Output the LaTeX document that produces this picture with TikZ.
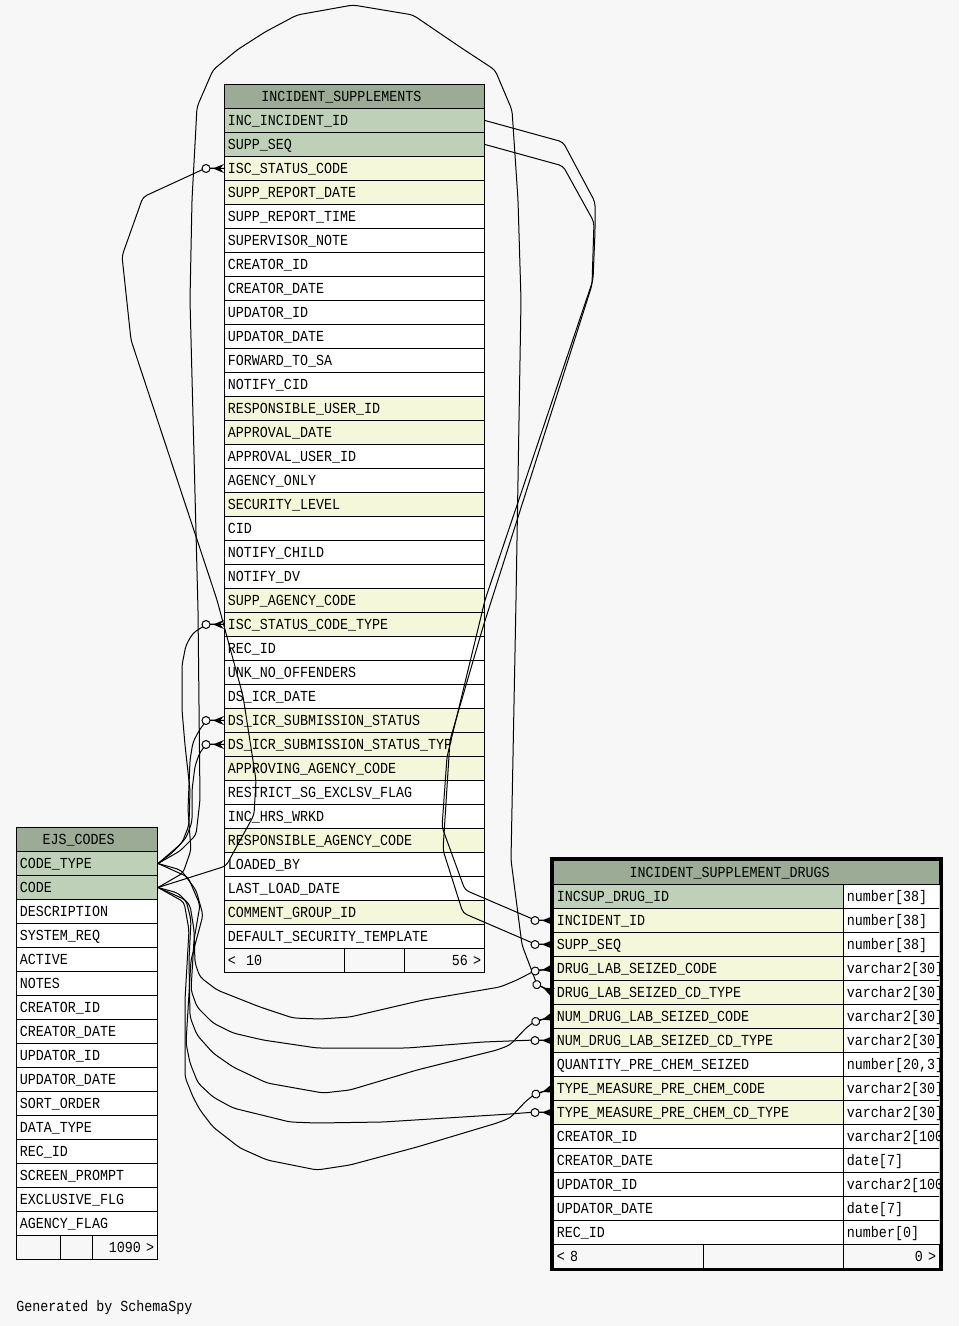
\documentclass[tikz,border=0pt]{standalone}
\usepackage{xcolor}
\usepackage{fontspec}
\newfontfamily\cellfont[FakeStretch=0.87]{Liberation Mono}
\definecolor{pagebg}{HTML}{F7F7F7}
\definecolor{headgreen}{HTML}{9BAB96}
\definecolor{keygreen}{HTML}{BED1B8}
\definecolor{fkyellow}{HTML}{F4F7DA}

\begin{document}
\begin{tikzpicture}[x=0.75pt, y=-0.75pt]
        \tikzset{column/.style = {draw, line width=0.75pt, rectangle, anchor=north west, minimum height=18pt,
                inner xsep=2.6pt, inner ysep=0pt, text height=7.6pt, text depth=0pt, align=left,
                font=\cellfont\fontsize{11.5}{12}\selectfont, fill=white, text width=#1}}
        \tikzset{head/.style = {fill=headgreen}}
        \tikzset{pk/.style = {fill=keygreen}}
        \tikzset{fk/.style = {fill=fkyellow}}
        \tikzset{foot/.style = {column=#1, fill=none}}
        \tikzset{link/.style = {line width=0.75pt, rounded corners=3pt}}
        \tikzset{crow/.pic = {
                \draw[line width=0.75pt] (-14,0) -- (0,0);
                \fill (0,-4.5) -- (-11,0) -- (0,4.5) -- (-4,0) -- cycle;
                \draw[line width=0.75pt, fill=pagebg] (-18,0) circle[radius=4];}}
        \path[use as bounding box, fill=pagebg] (0,0) rectangle (959,1326);
        % INCIDENT_SUPPLEMENTS
        \node[column=189.8pt, head] (is) at (224,84) {\hspace*{25pt}INCIDENT\_SUPPLEMENTS};
        \node[column=189.8pt, pk] (is-incid) at (224,108) {INC\_INCIDENT\_ID};
        \node[column=189.8pt, pk] (is-seq) at (224,132) {SUPP\_SEQ};
        \node[column=189.8pt, fk] (is-isc) at (224,156) {ISC\_STATUS\_CODE};
        \node[column=189.8pt, fk] (is-srd) at (224,180) {SUPP\_REPORT\_DATE};
        \node[column=189.8pt] (is-srt) at (224,204) {SUPP\_REPORT\_TIME};
        \node[column=189.8pt] (is-sup) at (224,228) {SUPERVISOR\_NOTE};
        \node[column=189.8pt] (is-cid) at (224,252) {CREATOR\_ID};
        \node[column=189.8pt] (is-cdate) at (224,276) {CREATOR\_DATE};
        \node[column=189.8pt] (is-uid) at (224,300) {UPDATOR\_ID};
        \node[column=189.8pt] (is-udate) at (224,324) {UPDATOR\_DATE};
        \node[column=189.8pt] (is-fwd) at (224,348) {FORWARD\_TO\_SA};
        \node[column=189.8pt] (is-ncid) at (224,372) {NOTIFY\_CID};
        \node[column=189.8pt, fk] (is-ruid) at (224,396) {RESPONSIBLE\_USER\_ID};
        \node[column=189.8pt, fk] (is-adate) at (224,420) {APPROVAL\_DATE};
        \node[column=189.8pt] (is-auid) at (224,444) {APPROVAL\_USER\_ID};
        \node[column=189.8pt] (is-aonly) at (224,468) {AGENCY\_ONLY};
        \node[column=189.8pt, fk] (is-sec) at (224,492) {SECURITY\_LEVEL};
        \node[column=189.8pt] (is-c) at (224,516) {CID};
        \node[column=189.8pt] (is-nchild) at (224,540) {NOTIFY\_CHILD};
        \node[column=189.8pt] (is-ndv) at (224,564) {NOTIFY\_DV};
        \node[column=189.8pt, fk] (is-sac) at (224,588) {SUPP\_AGENCY\_CODE};
        \node[column=189.8pt, fk] (is-isct) at (224,612) {ISC\_STATUS\_CODE\_TYPE};
        \node[column=189.8pt] (is-rec) at (224,636) {REC\_ID};
        \node[column=189.8pt] (is-unk) at (224,660) {UNK\_NO\_OFFENDERS};
        \node[column=189.8pt] (is-dsdate) at (224,684) {DS\_ICR\_DATE};
        \node[column=189.8pt, fk] (is-dss) at (224,708) {DS\_ICR\_SUBMISSION\_STATUS};
        \node[column=189.8pt, fk] (is-dsst) at (224,732) {DS\_ICR\_SUBMISSION\_STATUS\_TYP};
        \node[column=189.8pt, fk] (is-aac) at (224,756) {APPROVING\_AGENCY\_CODE};
        \node[column=189.8pt] (is-rsg) at (224,780) {RESTRICT\_SG\_EXCLSV\_FLAG};
        \node[column=189.8pt] (is-hrs) at (224,804) {INC\_HRS\_WRKD};
        \node[column=189.8pt, fk] (is-rac) at (224,828) {RESPONSIBLE\_AGENCY\_CODE};
        \node[column=189.8pt] (is-lby) at (224,852) {LOADED\_BY};
        \node[column=189.8pt] (is-ldate) at (224,876) {LAST\_LOAD\_DATE};
        \node[column=189.8pt, fk] (is-cgid) at (224,900) {COMMENT\_GROUP\_ID};
        \node[column=189.8pt] (is-dst) at (224,924) {DEFAULT\_SECURITY\_TEMPLATE};
        \node[foot=84.8pt] (is-foot1) at (224,948) {<~~10};
        \node[foot=39.8pt] (is-foot2) at (344,948) {};
        \node[foot=54.8pt, align=right] (is-foot3) at (404,948) {56 >};
        % EJS_CODES
        \node[column=100.55pt, head] (ejs) at (16,827) {\hspace*{16.9pt}EJS\_CODES};
        \node[column=100.55pt, pk] (ejs-ctype) at (16,851) {CODE\_TYPE};
        \node[column=100.55pt, pk] (ejs-code) at (16,875) {CODE};
        \node[column=100.55pt] (ejs-desc) at (16,899) {DESCRIPTION};
        \node[column=100.55pt] (ejs-sreq) at (16,923) {SYSTEM\_REQ};
        \node[column=100.55pt] (ejs-active) at (16,947) {ACTIVE};
        \node[column=100.55pt] (ejs-notes) at (16,971) {NOTES};
        \node[column=100.55pt] (ejs-cid) at (16,995) {CREATOR\_ID};
        \node[column=100.55pt] (ejs-cdate) at (16,1019) {CREATOR\_DATE};
        \node[column=100.55pt] (ejs-uid) at (16,1043) {UPDATOR\_ID};
        \node[column=100.55pt] (ejs-udate) at (16,1067) {UPDATOR\_DATE};
        \node[column=100.55pt] (ejs-sort) at (16,1091) {SORT\_ORDER};
        \node[column=100.55pt] (ejs-dtype) at (16,1115) {DATA\_TYPE};
        \node[column=100.55pt] (ejs-rec) at (16,1139) {REC\_ID};
        \node[column=100.55pt] (ejs-prompt) at (16,1163) {SCREEN\_PROMPT};
        \node[column=100.55pt] (ejs-excl) at (16,1187) {EXCLUSIVE\_FLG};
        \node[column=100.55pt] (ejs-aflag) at (16,1211) {AGENCY\_FLAG};
        \node[foot=27.8pt] (ejs-foot1) at (16,1235) {};
        \node[foot=18.8pt] (ejs-foot2) at (60,1235) {};
        \node[foot=43.55pt, align=right] (ejs-foot3) at (92,1235) {1090 >};
        % INCIDENT_SUPPLEMENT_DRUGS
        \node[column=284.6pt, head] (isd) at (553,860) {\hspace*{54.4pt}INCIDENT\_SUPPLEMENT\_DRUGS};
        \node[column=212.3pt, pk] (isd-drug) at (553,884) {INCSUP\_DRUG\_ID};
        \node[column=212.3pt, fk] (isd-incid) at (553,908) {INCIDENT\_ID};
        \node[column=212.3pt, fk] (isd-seq) at (553,932) {SUPP\_SEQ};
        \node[column=212.3pt, fk] (isd-dlsc) at (553,956) {DRUG\_LAB\_SEIZED\_CODE};
        \node[column=212.3pt, fk] (isd-dlsct) at (553,980) {DRUG\_LAB\_SEIZED\_CD\_TYPE};
        \node[column=212.3pt, fk] (isd-ndlsc) at (553,1004) {NUM\_DRUG\_LAB\_SEIZED\_CODE};
        \node[column=212.3pt, fk] (isd-ndlsct) at (553,1028) {NUM\_DRUG\_LAB\_SEIZED\_CD\_TYPE};
        \node[column=212.3pt] (isd-qty) at (553,1052) {QUANTITY\_PRE\_CHEM\_SEIZED};
        \node[column=212.3pt, fk] (isd-tmc) at (553,1076) {TYPE\_MEASURE\_PRE\_CHEM\_CODE};
        \node[column=212.3pt, fk] (isd-tmct) at (553,1100) {TYPE\_MEASURE\_PRE\_CHEM\_CD\_TYPE};
        \node[column=212.3pt] (isd-cid) at (553,1124) {CREATOR\_ID};
        \node[column=212.3pt] (isd-cdate) at (553,1148) {CREATOR\_DATE};
        \node[column=212.3pt] (isd-uid) at (553,1172) {UPDATOR\_ID};
        \node[column=212.3pt] (isd-udate) at (553,1196) {UPDATOR\_DATE};
        \node[column=212.3pt] (isd-rec) at (553,1220) {REC\_ID};
        \begin{scope}
        \clip (843,884) rectangle (939,1244);
        \node[column=66.8pt] (isd-t1) at (843,884) {number[38]};
        \node[column=66.8pt] (isd-t2) at (843,908) {number[38]};
        \node[column=66.8pt] (isd-t3) at (843,932) {number[38]};
        \node[column=66.8pt] (isd-t4) at (843,956) {varchar2[30]};
        \node[column=66.8pt] (isd-t5) at (843,980) {varchar2[30]};
        \node[column=66.8pt] (isd-t6) at (843,1004) {varchar2[30]};
        \node[column=66.8pt] (isd-t7) at (843,1028) {varchar2[30]};
        \node[column=66.8pt] (isd-t8) at (843,1052) {number[20,3]};
        \node[column=66.8pt] (isd-t9) at (843,1076) {varchar2[30]};
        \node[column=66.8pt] (isd-t10) at (843,1100) {varchar2[30]};
        \node[column=66.8pt] (isd-t11) at (843,1124) {varchar2[100]};
        \node[column=66.8pt] (isd-t12) at (843,1148) {date[7]};
        \node[column=66.8pt] (isd-t13) at (843,1172) {varchar2[100]};
        \node[column=66.8pt] (isd-t14) at (843,1196) {date[7]};
        \node[column=66.8pt] (isd-t15) at (843,1220) {number[0]};
        \end{scope}
        \node[foot=107.3pt] (isd-foot1) at (553,1244) {<~8};
        \node[foot=99.8pt] (isd-foot2) at (703,1244) {};
        \node[foot=66.8pt, align=right] (isd-foot3) at (843,1244) {0 >};
        \draw[line width=2.25pt] (551,858) rectangle (941,1269);
        % footer
        \node[anchor=base west, inner sep=0pt, font=\cellfont\fontsize{11.5}{12}\selectfont] (credit) at (16,1311) {Generated by SchemaSpy};
        % relations
        \draw[link] (is-isc.west) -- (206,168) -- (143,197) -- (122,256) -- (131,340) -- (217,600) -- (243,696) -- (256,780) -- (254,815) -- (226,866) -- (ejs-code.east);
        \draw[link] (is-isct.west) -- (207,624) -- (193,633) -- (186,645) -- (182,665) -- (182,710) -- (185,745) -- (190,790) -- (189,825) -- (182,843) -- (ejs-ctype.east);
        \draw[link] (is-dss.west) -- (207,720) -- (200,729) -- (193,742) -- (190,760) -- (188,810) -- (191,850) -- (183,873) -- (ejs-code.east);
        \draw[link] (is-dsst.west) -- (207,744) -- (200,752) -- (195,766) -- (192,790) -- (192,822) -- (186,838) -- (172,853) -- (ejs-ctype.east);
        \draw[link] (isd-incid.west) -- (535,920) -- (465,890) -- (442,827) -- (447,757) -- (485,600) -- (593,280) -- (595,232) -- (595,202) -- (563,142) -- (is-incid.east);
        \draw[link] (isd-seq.west) -- (535,944) -- (463,913) -- (443,850) -- (450,740) -- (483,627) -- (592,285) -- (594,222) -- (563,166) -- (is-seq.east);
        \draw[link] (isd-dlsct.west) -- (536.8,984) -- (522,945) -- (511,860) -- (516,600) -- (521,300) -- (518,200) -- (512,110) -- (495,70) -- (460,47) -- (413,15) -- (353,5) -- (297,15) -- (265,32) -- (237,50) -- (213,70) -- (197,107) -- (192,200) -- (190,300) -- (198,610) -- (200,800) -- (196,835) -- (180,851) -- (ejs-ctype.east);
        \draw[link] (isd-dlsc.west) -- (535.2,970.5) -- (517,980) -- (500,987) -- (423,1000) -- (350,1017) -- (320,1019) -- (293,1018) -- (260,1007) -- (217,990) -- (200,977) -- (195,963) -- (194,930) -- (190,905) -- (178,893) -- (ejs-code.east);
        \draw[link] (isd-ndlsc.west) -- (535.7,1021) -- (527,1027) -- (510,1045) -- (497,1050) -- (417,1070) -- (350,1090) -- (323,1093) -- (267,1083) -- (233,1067) -- (213,1053) -- (197,1035) -- (190,1017) -- (189,960) -- (191,920) -- (186,900) -- (ejs-code.east);
        \draw[link] (isd-ndlsct.west) -- (535,1040) -- (483,1042) -- (407,1048) -- (317,1048) -- (263,1040) -- (233,1033) -- (213,1023) -- (197,1007) -- (191,990) -- (194,940) -- (200,905) -- (188,877) -- (ejs-ctype.east);
        \draw[link] (isd-tmc.west) -- (535.9,1093.6) -- (527,1100) -- (510,1118) -- (497,1123) -- (417,1147) -- (350,1165) -- (317,1170) -- (267,1160) -- (240,1148) -- (213,1127) -- (200,1110) -- (193,1097) -- (185,1077) -- (185,1000) -- (189,930) -- (184,902) -- (ejs-code.east);
        \draw[link] (isd-tmct.west) -- (535,1112) -- (510,1114) -- (383,1122) -- (317,1123) -- (290,1122) -- (233,1108) -- (213,1097) -- (198,1083) -- (190,1063) -- (186,1043) -- (191,960) -- (203,915) -- (196,890) -- (181,870) -- (ejs-ctype.east);
        % crow's feet
        \pic at (is-isc.west) {crow};
        \pic at (is-isct.west) {crow};
        \pic at (is-dss.west) {crow};
        \pic at (is-dsst.west) {crow};
        \pic at (isd-incid.west) {crow};
        \pic at (isd-seq.west) {crow};
        \pic[rotate=8] at (isd-dlsc.west) {crow};
        \pic[rotate=-26] at (isd-dlsct.west) {crow};
        \pic[rotate=16] at (isd-ndlsc.west) {crow};
        \pic at (isd-ndlsct.west) {crow};
        \pic[rotate=18] at (isd-tmc.west) {crow};
        \pic at (isd-tmct.west) {crow};
\end{tikzpicture}
\end{document}
